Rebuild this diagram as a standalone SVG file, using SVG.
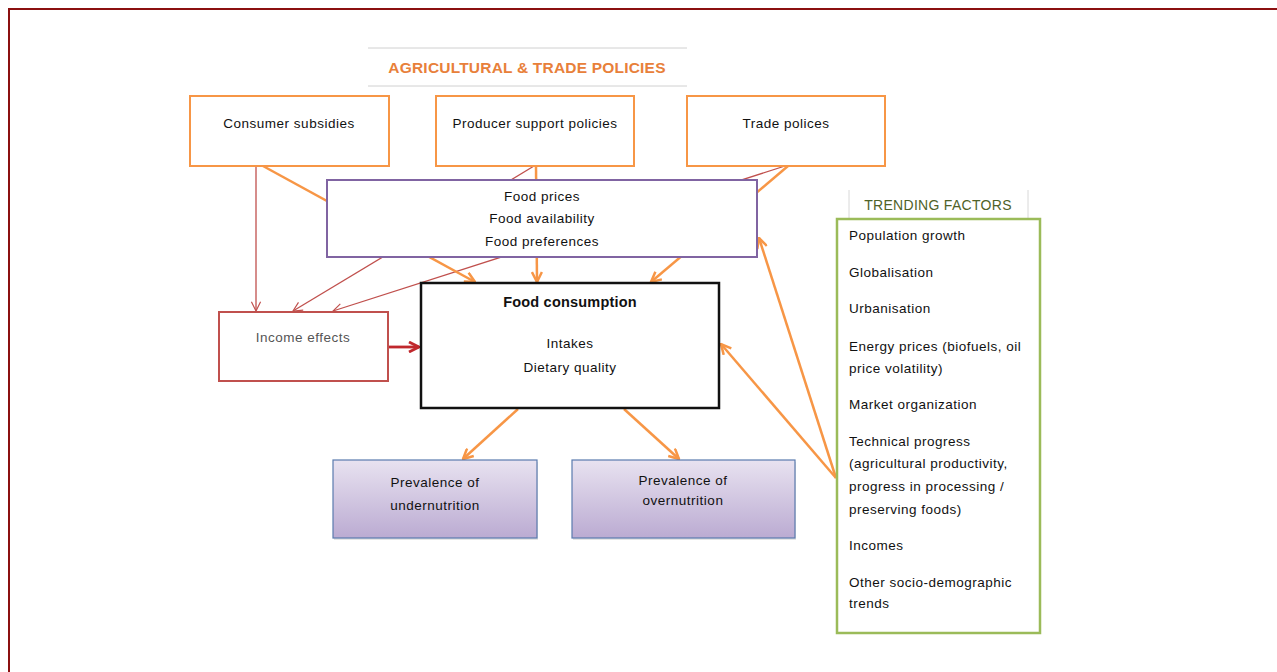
<svg xmlns="http://www.w3.org/2000/svg" width="1277" height="672" viewBox="0 0 1277 672">
<defs>
<style>
text{font-family:"Liberation Sans",Arial,sans-serif;fill:#111;font-size:13.5px;letter-spacing:0.5px}
.c{text-anchor:middle}
.or{fill:none;stroke:#F79646;stroke-width:2.5}
.rd{fill:none;stroke:#C0504D;stroke-width:1.3}
.box{fill:#fff;stroke:#F79646;stroke-width:2}
</style>
<linearGradient id="pg" x1="0" y1="0" x2="0" y2="1"><stop offset="0" stop-color="#E8E2F0"/><stop offset="1" stop-color="#BBABD2"/></linearGradient>
<marker id="aOr" viewBox="0 0 12 12" refX="11" refY="6" markerWidth="12" markerHeight="12" orient="auto" markerUnits="userSpaceOnUse"><path d="M1,1 L11,6 L1,11" fill="none" stroke="#F79646" stroke-width="2.5"/></marker>
<marker id="aRd" viewBox="0 0 12 12" refX="11" refY="6" markerWidth="11" markerHeight="11" orient="auto" markerUnits="userSpaceOnUse"><path d="M1,1 L11,6 L1,11" fill="none" stroke="#C0504D" stroke-width="1.3"/></marker>
<marker id="aRd2" viewBox="0 0 12 12" refX="11" refY="6" markerWidth="12" markerHeight="12" orient="auto" markerUnits="userSpaceOnUse"><path d="M1,1 L11,6 L1,11" fill="none" stroke="#C0282D" stroke-width="2.8"/></marker>
</defs>
<rect x="0" y="0" width="1277" height="672" fill="#fff"/>
<rect x="9" y="9" width="1300" height="700" fill="none" stroke="#8B1010" stroke-width="2"/>

<g id="connectors">
<line class="rd" x1="256" y1="166" x2="256" y2="311" marker-end="url(#aRd)"/>
<line class="rd" x1="534" y1="166" x2="293" y2="311" marker-end="url(#aRd)"/>
<line class="rd" x1="785" y1="166" x2="333" y2="311" marker-end="url(#aRd)"/>
<line class="or" x1="263" y1="166" x2="475" y2="282" marker-end="url(#aOr)"/>
<line class="or" x1="536" y1="166" x2="537" y2="282" marker-end="url(#aOr)"/>
<line class="or" x1="788" y1="166" x2="651" y2="282" marker-end="url(#aOr)"/>
<line x1="388" y1="347" x2="419" y2="347" stroke="#C0282D" stroke-width="2.8" marker-end="url(#aRd2)"/>
<line class="or" x1="518" y1="409" x2="463" y2="459" marker-end="url(#aOr)"/>
<line class="or" x1="624" y1="409" x2="679" y2="459" marker-end="url(#aOr)"/>
<line class="or" x1="836" y1="478" x2="759" y2="238" marker-end="url(#aOr)"/>
<line class="or" x1="836" y1="478" x2="721" y2="344" marker-end="url(#aOr)"/>
</g>

<g id="title">
<line x1="368" y1="48" x2="687" y2="48" stroke="#D0D0D0" stroke-width="1"/>
<line x1="368" y1="86" x2="687" y2="86" stroke="#D0D0D0" stroke-width="1"/>
<text class="c" x="527" y="73" style="font-size:15.5px;font-weight:bold;letter-spacing:0.2px;fill:#E8803A">AGRICULTURAL &amp; TRADE POLICIES</text>
</g>

<g id="consumer-subsidies">
<rect class="box" x="190" y="96" width="199" height="70"/>
<text class="c" x="289" y="128">Consumer subsidies</text>
</g>
<g id="producer-support">
<rect class="box" x="436" y="96" width="198" height="70"/>
<text class="c" x="535" y="128">Producer support policies</text>
</g>
<g id="trade-policies">
<rect class="box" x="687" y="96" width="198" height="70"/>
<text class="c" x="786" y="128">Trade polices</text>
</g>

<g id="food-prices">
<rect x="327" y="180" width="430" height="77" fill="#fff" stroke="#8064A2" stroke-width="2"/>
<text class="c" x="542" y="201">Food prices</text>
<text class="c" x="542" y="223">Food availability</text>
<text class="c" x="542" y="246">Food preferences</text>
</g>

<g id="food-consumption">
<rect x="421" y="283" width="298" height="125" fill="#fff" stroke="#111" stroke-width="2.5"/>
<text class="c" x="570" y="307" style="font-size:14.5px;font-weight:bold;letter-spacing:0.2px">Food consumption</text>
<text class="c" x="570" y="348">Intakes</text>
<text class="c" x="570" y="372">Dietary quality</text>
</g>

<g id="income-effects">
<rect x="219" y="312" width="169" height="69" fill="#fff" stroke="#C0504D" stroke-width="2"/>
<text class="c" x="303" y="342" style="fill:#555">Income effects</text>
</g>

<g id="undernutrition">
<rect x="334" y="462" width="204" height="78" fill="#ccc" opacity="0.5"/>
<rect x="333" y="460" width="204" height="78" fill="url(#pg)" stroke="#5A7BAE" stroke-width="1.2"/>
<text class="c" x="435" y="487">Prevalence of</text>
<text class="c" x="435" y="510">undernutrition</text>
</g>
<g id="overnutrition">
<rect x="573" y="462" width="223" height="78" fill="#ccc" opacity="0.5"/>
<rect x="572" y="460" width="223" height="78" fill="url(#pg)" stroke="#5A7BAE" stroke-width="1.2"/>
<text class="c" x="683" y="485">Prevalence of</text>
<text class="c" x="683" y="505">overnutrition</text>
</g>

<g id="trending-factors">
<line x1="849" y1="190" x2="849" y2="218" stroke="#D8D8D8" stroke-width="1"/>
<line x1="1028" y1="190" x2="1028" y2="218" stroke="#D8D8D8" stroke-width="1"/>
<text class="c" x="938" y="210" style="font-size:14px;letter-spacing:0.3px;fill:#4F6228">TRENDING FACTORS</text>
<rect x="837" y="219" width="203" height="414" fill="#fff" stroke="#9BBB59" stroke-width="2.5"/>
<text x="849" y="240">Population growth</text>
<text x="849" y="277">Globalisation</text>
<text x="849" y="313">Urbanisation</text>
<text x="849" y="351">Energy prices (biofuels, oil</text>
<text x="849" y="373">price volatility)</text>
<text x="849" y="409">Market organization</text>
<text x="849" y="446">Technical progress</text>
<text x="849" y="468">(agricultural productivity,</text>
<text x="849" y="491">progress in processing /</text>
<text x="849" y="514">preserving foods)</text>
<text x="849" y="550">Incomes</text>
<text x="849" y="587">Other socio-demographic</text>
<text x="849" y="608">trends</text>
</g>
</svg>
